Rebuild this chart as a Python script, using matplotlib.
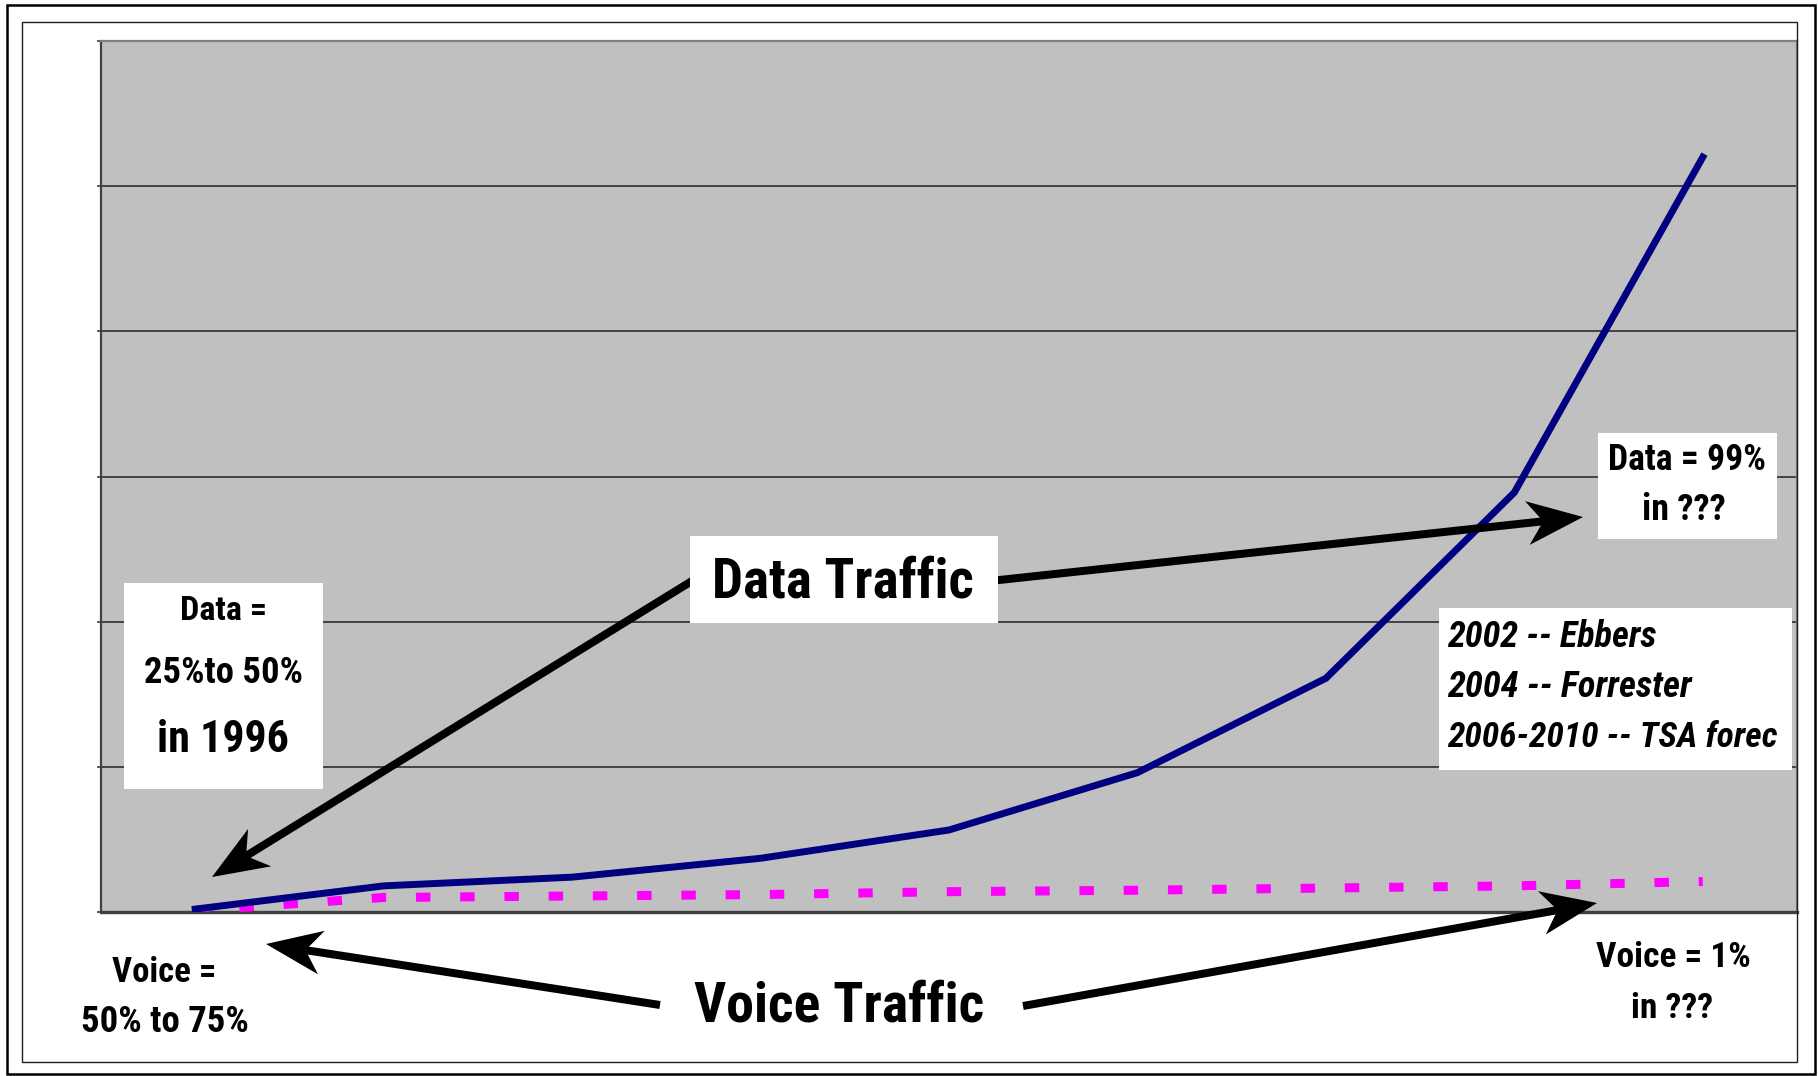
import matplotlib
matplotlib.use('Agg')
import matplotlib.pyplot as plt
from matplotlib import font_manager as fm
from matplotlib.patches import Rectangle, Polygon
import numpy as np

# values (x axis has no labels, just 9 periods)
periods = list(range(9))
data_traffic = [0.02, 0.18, 0.24, 0.37, 0.565, 0.96, 1.61, 2.89, 5.20]
voice_traffic = [0.01, 0.10, 0.11, 0.12, 0.14, 0.15, 0.165, 0.18, 0.21]
y_ticks = [0, 1, 2, 3, 4, 5, 6]

# the original uses a narrow bold face, take the narrowest one we have
fonts = {(f.name, f.stretch) for f in fm.fontManager.ttflist}
names = {n for n, s in fonts}
stretch = 'normal'
if 'Liberation Sans Narrow' in names:
    family = 'Liberation Sans Narrow'
elif 'Roboto Condensed' in names:
    family = 'Roboto Condensed'
elif ('DejaVu Sans', 'condensed') in fonts:
    family, stretch = 'DejaVu Sans', 'condensed'
else:
    family = 'Liberation Sans'
plt.rcParams['font.family'] = [family, 'DejaVu Sans']

W, H = 1818, 1076
fig = plt.figure(figsize=(W / 100, H / 100), dpi=100)
fig.patch.set_facecolor('white')

# plot area (pixel box 101..1797 x 41..912)
ax = fig.add_axes([101 / W, 1 - 912 / H, (1797 - 101) / W, (912 - 41) / H])
ax.set_facecolor('#c0c0c0')
ax.set_xlim(-0.5, len(periods) - 0.5)
ax.set_ylim(y_ticks[0], y_ticks[-1])
ax.set_yticks(y_ticks)
ax.set_yticklabels([])
ax.set_xticks([])
ax.tick_params(axis='y', direction='out', length=3, width=1.2, color='#404040')
ax.grid(axis='y', color='#202020', lw=1.1)
ax.set_axisbelow(True)
for side, c, w in [('left', '#404040', 1.6), ('bottom', '#404040', 2.4),
                   ('top', '#808080', 1.6), ('right', '#808080', 1.6)]:
    ax.spines[side].set_color(c)
    ax.spines[side].set_linewidth(w)

ax.plot(periods, voice_traffic, color='#ff00ff', lw=6.5, dashes=(1.6, 3.3),
        dash_capstyle='butt', zorder=3)
ax.plot(periods, data_traffic, color='#000080', lw=5, solid_joinstyle='miter',
        zorder=4)

# overlay in pixel coordinates for frames, boxes, arrows and text
ov = fig.add_axes([0, 0, 1, 1])
ov.set_xlim(0, W)
ov.set_ylim(H, 0)
ov.axis('off')
ov.patch.set_alpha(0)

ov.add_patch(Rectangle((7, 5), 1808, 1069, fill=False, ec='black', lw=1.8))
ov.add_patch(Rectangle((22, 22), 1775, 1040, fill=False, ec='#202020', lw=1.0))


def arrow(x0, y0, x1, y1, lw=8, hl=56, hw=22, notch=16):
    dx, dy = x1 - x0, y1 - y0
    d = np.hypot(dx, dy)
    ux, uy = dx / d, dy / d
    px, py = -uy, ux
    bx, by = x1 - hl * ux, y1 - hl * uy
    nx, ny = x1 - (hl - notch) * ux, y1 - (hl - notch) * uy
    ov.plot([x0, nx], [y0, ny], color='black', lw=lw * 0.72,
            solid_capstyle='butt', zorder=3)
    ov.add_patch(Polygon([(x1, y1), (bx + hw * px, by + hw * py), (nx, ny),
                          (bx - hw * px, by - hw * py)], closed=True,
                         fc='black', ec='none', zorder=3))


arrow(700, 576, 212, 877)
arrow(990, 581, 1583, 517)
arrow(660, 1005, 266, 944)
arrow(1023, 1006, 1597, 903)

# white boxes
for x0, y0, x1, y1 in [(124, 583, 323, 789), (690, 536, 998, 623),
                       (1598, 433, 1777, 539), (1439, 608, 1792, 770)]:
    ov.add_patch(Rectangle((x0, y0), x1 - x0, y1 - y0, fc='white', ec='none',
                           zorder=5))

labels = []


def label(x, y, s, size, width, ha='center', style='normal'):
    t = ov.text(x, y, s, ha=ha, va='baseline', fontsize=size,
                fontweight='bold', fontstyle=style, fontstretch=stretch,
                zorder=6)
    labels.append((t, width))


label(223, 620, 'Data =', 25, 87)
label(223, 683, '25%to 50%', 26.5, 159)
label(223, 752, 'in 1996', 35, 132)
label(843, 597, 'Data Traffic', 42, 262)
label(839, 1022, 'Voice Traffic', 42, 290)
label(1687, 470, 'Data = 99%', 26, 158)
label(1684, 520, 'in ???', 26, 84)
label(1447, 647, '2002 -- Ebbers', 27, 210, ha='left', style='italic')
label(1447, 697, '2004 -- Forrester', 27, 245, ha='left', style='italic')
label(1447, 747, '2006-2010 -- TSA forec', 27, 330, ha='left', style='italic')
label(164, 982, 'Voice =', 26.5, 104)
label(165, 1032, '50% to 75%', 26.5, 168)
label(1673, 967, 'Voice = 1%', 25.5, 155)
label(1672, 1018, 'in ???', 25.5, 84)

# shrink any label that comes out wider than in the original
fig.canvas.draw()
r = fig.canvas.get_renderer()
for t, width in labels:
    w = t.get_window_extent(r).width
    if w > width:
        t.set_fontsize(t.get_fontsize() * width / w)

fig.savefig('out.png', dpi=100)
